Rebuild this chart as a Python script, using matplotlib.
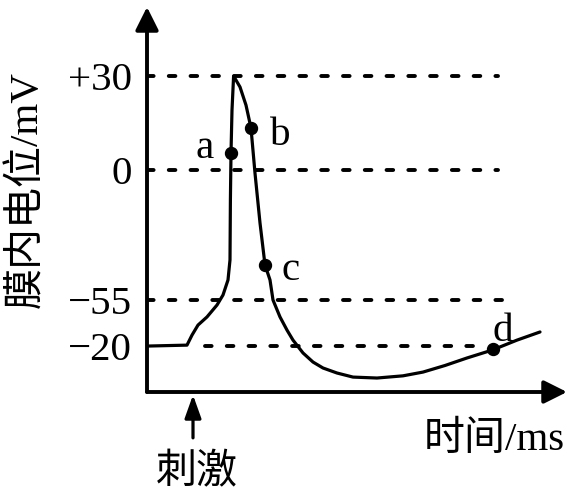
import matplotlib
matplotlib.use("Agg")
import matplotlib.pyplot as plt

# ---- data ----
time_ms = [0, 2.0, 2.25, 2.55, 3.0, 3.5, 3.8, 4.05, 4.15, 4.17, 4.2, 4.25, 4.33,
           4.65, 4.95, 5.2, 5.4, 5.65, 5.9, 6.15, 6.3, 6.65, 7.0, 7.3, 7.8, 8.3,
           8.8, 9.5, 10.3, 11.5, 12.8, 13.8, 14.9, 16.0, 17.25, 18.5, 19.65]
potential = [-56.2, -55.9, -52.7, -49.5, -46.9, -43.1, -39.9, -35.1, -28.7, -9.6, 5.4, 19.1, 30.0,
             26.5, 20.7, 13.4, -1.0, -16.9, -30.3, -35.1, -41.5, -46.9, -51.1, -54.3, -58.4, -61.3,
             -63.2, -64.8, -66.1, -66.4, -65.7, -64.5, -62.4, -60.0, -57.5, -54.3, -51.7]

point_labels = ["a", "b", "c", "d"]
point_t = [4.2, 5.2, 5.9, 17.3]
point_v = [5.4, 13.4, -30.3, -57.1]
label_t = [2.9, 6.65, 7.2, 17.8]
label_v = [3.8, 8.0, -35.1, -54.6]

level_pos = [30.0, 0.0, -41.5, -56.2]
level_labels = ["+30", "0", "\u221255", "\u221220"]
level_start = [0.0, 0.0, 0.0, 2.9]
level_end = [17.55, 17.55, 17.75, 16.3]

stim_t = 2.3
y_label = "膜内电位/mV"
x_label = "时间/ms"
stim_label = "刺激"

# ---- drawing ----
W, H = 577, 495
fam = ["Liberation Serif", "Noto Sans CJK SC"]
fs = 29.5

fig = plt.figure(figsize=(W / 100, H / 100), dpi=100)
ax = fig.add_axes([147 / W, (H - 392) / H, (567 - 147) / W, (392 - 7) / H])
ax.set_xlim(0, 21)
ax.set_ylim(-70.86, 52.03)
for s in ax.spines.values():
    s.set_visible(False)
ax.set_xticks([])
ax.set_yticks(level_pos)
ax.set_yticklabels(level_labels, fontsize=fs, family=fam)
ax.tick_params(axis="y", length=0, pad=11)

# dashed reference levels
for y, x0, x1 in zip(level_pos, level_start, level_end):
    ln, = ax.plot([x0, x1], [y, y], color="black", lw=2.8, solid_capstyle="round",
                  dash_capstyle="round")
    ln.set_dashes((1.7, 3.9))

# curve
ax.plot(time_ms, potential, color="black", lw=2.3, solid_joinstyle="round",
        solid_capstyle="round")

# points
ax.plot(point_t, point_v, "o", color="black", ms=8.6, zorder=5)
for lab, tx, ty in zip(point_labels, label_t, label_v):
    ax.text(tx, ty, lab, fontsize=fs, family=fam, ha="center", va="baseline")

# axes with arrowheads
arrow_kw = dict(arrowstyle="-|>,head_length=0.7,head_width=0.35", color="black",
                lw=2.8, mutation_scale=20, shrinkA=0, shrinkB=0)
ax.annotate("", xy=(0, 1), xytext=(0, 0), xycoords="axes fraction",
            textcoords="axes fraction", arrowprops=arrow_kw, annotation_clip=False)
ax.annotate("", xy=(1, 0), xytext=(0, 0), xycoords="axes fraction",
            textcoords="axes fraction", arrowprops=arrow_kw, annotation_clip=False)

# stimulus arrow
ax.annotate("", xy=(stim_t, -71.8), xytext=(stim_t, -85.5),
            arrowprops=dict(arrowstyle="-|>,head_length=0.7,head_width=0.25",
                            color="black", lw=2.3, mutation_scale=20,
                            shrinkA=0, shrinkB=0),
            annotation_clip=False)

fig.text(197 / W, 1 - 473 / H, stim_label, fontsize=fs, family=fam,
         ha="center", va="center")
fig.text(494 / W, 1 - 440 / H, x_label, fontsize=fs, family=fam,
         ha="center", va="center")
fig.text(27 / W, 1 - 190 / H, y_label, fontsize=fs, family=fam,
         ha="center", va="center", rotation=90)

fig.savefig("out.png", dpi=100)
